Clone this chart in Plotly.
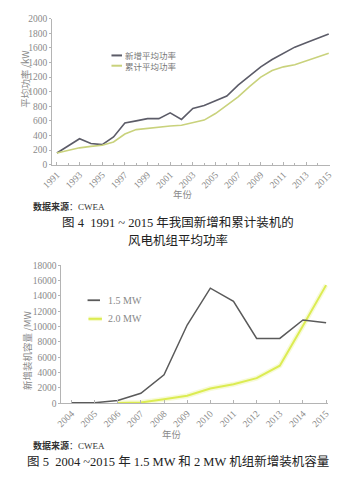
import plotly.graph_objects as go

W, H = 348, 482

# Figure 4: average rated power of newly installed and cumulative turbines (kW)
years_avg = list(range(1991, 2016))
new_avg_kw = [160, 260, 355, 290, 275, 380, 570, 600, 630, 630, 710, 620, 770, 810,
              880, 940, 1090, 1220, 1340, 1440, 1520, 1610, 1670, 1730, 1790]
cum_avg_kw = [160, 195, 230, 250, 265, 310, 420, 480, 500, 520, 530, 540, 570, 610,
              700, 820, 930, 1070, 1200, 1290, 1340, 1370, 1420, 1470, 1525]

# Figure 5: new installed capacity of 1.5 MW and 2.0 MW turbines (MW)
years_cap = list(range(2004, 2016))
cap_15mw = [60, 60, 350, 1300, 3700, 10200, 15000, 13300, 8450, 8450, 10850, 10500]
cap_20mw = [None, None, 30, 100, 510, 980, 1920, 2470, 3280, 4900, 10100, 15400]

SERIF = "Liberation Serif, Times New Roman, serif"
MIXED = "Liberation Serif, Noto Sans CJK SC, serif"
CJK = "Noto Sans CJK SC"
TICK_C = "#8a8a8a"
AXIS_C = "#b4b4b4"

DARK_TOP = "#5c5c68"
GREEN_TOP = "#c9d27c"
DARK_BOT = "#5a5a5a"
YELLOW = "#dcec52"


def px(x):
    return x / W


def py(y):
    return 1 - y / H


fig = go.Figure()

fig.add_trace(go.Scatter(x=years_avg, y=new_avg_kw, mode="lines", name="新增平均功率",
                         line=dict(color=DARK_TOP, width=1.6), xaxis="x", yaxis="y"))
fig.add_trace(go.Scatter(x=years_avg, y=cum_avg_kw, mode="lines", name="累计平均功率",
                         line=dict(color=GREEN_TOP, width=1.6), xaxis="x", yaxis="y"))

# soft halo under the 2.0 MW line
fig.add_trace(go.Scatter(x=years_cap, y=cap_20mw, mode="lines", hoverinfo="skip",
                         line=dict(color="rgba(232,242,140,0.35)", width=5),
                         xaxis="x2", yaxis="y2"))
fig.add_trace(go.Scatter(x=years_cap, y=cap_20mw, mode="lines", name="2.0 MW",
                         line=dict(color=YELLOW, width=2), xaxis="x2", yaxis="y2"))
fig.add_trace(go.Scatter(x=years_cap, y=cap_15mw, mode="lines", name="1.5 MW",
                         line=dict(color=DARK_BOT, width=1.5), xaxis="x2", yaxis="y2"))

axis_common = dict(showgrid=False, zeroline=False, showline=True, linecolor=AXIS_C,
                   linewidth=1, tickcolor=AXIS_C, tickformat="d",
                   tickfont=dict(family=SERIF, size=9.5, color=TICK_C))

fig.update_layout(
    width=W, height=H, margin=dict(l=0, r=0, t=0, b=0),
    paper_bgcolor="white", plot_bgcolor="white", showlegend=False,
    xaxis=dict(domain=[px(43), px(333)], range=[1990.58, 2015.08], anchor="y",
               tick0=1991, dtick=2, ticks="inside", ticklen=3, tickangle=-45,
               minor=dict(dtick=1, ticks="inside", ticklen=2, tickcolor=AXIS_C),
               **axis_common),
    yaxis=dict(domain=[py(163), py(14)], range=[0, 2000], anchor="x",
               dtick=200, ticks="outside", ticklen=2, **axis_common),
    xaxis2=dict(domain=[px(52.7), px(331)], range=[2003.57, 2015.07], anchor="y2",
                tick0=2004, dtick=1, ticks="inside", ticklen=3, tickangle=-45,
                **axis_common),
    yaxis2=dict(domain=[py(406.7), py(265.7)], range=[0, 18000], anchor="x2",
                dtick=2000, ticks="outside", ticklen=2, **axis_common),
)

annotations = []
shapes = []


def text(x, y, s, size, color="#333", family=CJK, angle=0, xanchor="center",
         align="center"):
    annotations.append(dict(x=px(x), y=py(y), xref="paper", yref="paper", text=s,
                            showarrow=False, xanchor=xanchor, yanchor="middle",
                            textangle=angle, borderpad=0, align=align,
                            font=dict(family=family, size=size, color=color)))


def key(x0, x1, y, color, width):
    shapes.append(dict(type="line", xref="paper", yref="paper", x0=px(x0), x1=px(x1),
                       y0=py(y), y1=py(y), line=dict(color=color, width=width)))


# chart 1 labels
text(15, 75, "平均功率 /kW", 9.5, TICK_C, CJK, -90)
text(180, 193, "年份", 9.5, TICK_C)
key(105, 116, 51.5, DARK_TOP, 2)
key(105, 116, 62, GREEN_TOP, 2)
text(118, 56.8, "新增平均功率<br>累计平均功率", 8.5, "#777", CJK, xanchor="left",
     align="left")
text(22, 206, "<b>数据来源</b>：CWEA", 9, "#333", MIXED, xanchor="left")
text(174, 222, "图 4  1991 ~ 2015 年我国新增和累计装机的", 12.5, "#222", MIXED)
text(174, 239, "风电机组平均功率", 12.5, "#222", CJK)

# chart 2 labels
text(16, 352, "新增装机容量 /MW", 9.5, TICK_C, CJK, -90)
text(168, 438, "年份", 9.5, TICK_C)
key(80, 93, 301.5, DARK_BOT, 1.8)
key(81, 95, 320.5, "rgba(232,242,140,0.45)", 4.5)
key(81, 95, 320.5, YELLOW, 2)
text(100, 301.5, "1.5 MW", 10, "#888", SERIF, xanchor="left")
text(100, 320.5, "2.0 MW", 10, "#888", SERIF, xanchor="left")
text(22, 450, "<b>数据来源</b>：CWEA", 9, "#333", MIXED, xanchor="left")
text(175, 466, "图 5  2004 ~2015 年 1.5 MW 和 2 MW 机组新增装机容量", 12.5, "#222", MIXED)

fig.update_layout(annotations=annotations, shapes=shapes)

fig.write_html("out.html")
